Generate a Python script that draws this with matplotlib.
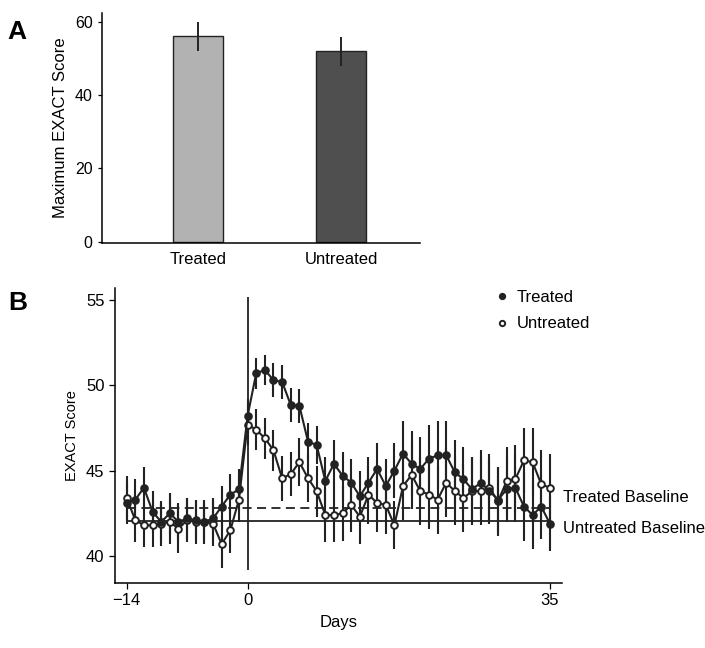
import numpy as np
import matplotlib
matplotlib.use('Agg')
import matplotlib.pyplot as plt

plt.rcParams['font.family'] = ['Liberation Sans', 'DejaVu Sans']

# Panel A: maximum EXACT score
grupos = ['Treated', 'Untreated']
max_score = [56.1, 52.0]
max_err = [4.0, 4.0]

# Panel B: daily EXACT score, day -14 to 35
dias = np.arange(-14, 36)
treated = [43.1, 43.3, 44.0, 42.6, 42.0, 42.5, 42.0, 42.2, 42.1, 42.0,
           42.2, 42.9, 43.6, 43.9, 48.2, 50.7, 50.9, 50.3, 50.2, 48.85,
           48.8, 46.7, 46.5, 44.4, 45.4, 44.7, 44.3, 43.5, 44.3, 45.1,
           44.1, 45.0, 46.0, 45.4, 45.1, 45.7, 45.9, 45.9, 44.9, 44.5,
           43.9, 44.3, 43.8, 43.3, 43.9, 44.0, 42.9, 42.4, 42.9, 41.9]
untreated = [43.4, 42.1, 41.8, 41.8, 41.9, 42.0, 41.6, 42.1, 42.0, 42.0,
             41.9, 40.7, 41.5, 43.3, 47.7, 47.4, 46.9, 46.2, 44.55, 44.8,
             45.5, 44.55, 43.8, 42.4, 42.4, 42.5, 43.0, 42.3, 43.6, 43.1,
             43.0, 41.8, 44.1, 44.75, 43.8, 43.6, 43.3, 44.3, 43.8, 43.4,
             43.8, 43.8, 44.0, 43.2, 44.4, 44.5, 45.6, 45.5, 44.2, 44.0]
treated_err = [1.2, 1.2, 1.2, 1.2, 1.1, 1.2, 1.1, 1.2, 1.1, 1.1,
               1.2, 1.2, 1.2, 1.2, 1.0, 0.9, 0.9, 1.0, 1.0, 1.0,
               1.0, 1.1, 1.1, 1.4, 1.4, 1.4, 1.4, 1.5, 1.5, 1.5,
               1.6, 1.6, 1.9, 1.9, 1.9, 2.0, 2.0, 2.0, 1.9, 1.9,
               1.9, 1.9, 1.9, 1.9, 1.9, 2.0, 2.0, 2.0, 1.9, 1.6]
untreated_err = [1.3, 1.3, 1.3, 1.3, 1.3, 1.3, 1.4, 1.3, 1.3, 1.3,
                 1.3, 1.4, 1.3, 1.3, 1.2, 1.2, 1.2, 1.2, 1.3, 1.3,
                 1.4, 1.4, 1.5, 1.6, 1.6, 1.6, 1.6, 1.6, 1.7, 1.7,
                 1.7, 1.4, 2.0, 2.0, 2.0, 2.0, 2.0, 2.0, 2.0, 2.0,
                 2.0, 2.0, 2.0, 2.0, 2.0, 2.0, 1.9, 2.0, 2.0, 2.0]
base_treated = 42.83
base_untreated = 42.07

fig = plt.figure(figsize=(7.05, 6.48), dpi=100)

# ---- Panel A ----
axA = fig.add_axes([0.1443, 0.6255, 0.4514, 0.3545])
xpos = np.arange(len(grupos))
axA.bar(xpos, max_score, width=0.35, color=['#b2b2b2', '#4f4f4f'],
        edgecolor='#222222', linewidth=1.0)
axA.errorbar(xpos, max_score, yerr=max_err, fmt='none', ecolor='#222222',
             elinewidth=1.4, capsize=0)
axA.set_xlim(-0.673, 1.55)
axA.set_ylim(-0.3, 62.5)
axA.set_yticks([0, 20, 40, 60])
axA.set_xticks(xpos)
axA.set_xticklabels(grupos, fontsize=12)
axA.tick_params(axis='x', length=0, pad=7)
axA.tick_params(axis='y', labelsize=11.5, length=3, width=0.9)
axA.set_ylabel('Maximum EXACT Score', fontsize=12, labelpad=5)
axA.spines['top'].set_visible(False)
axA.spines['right'].set_visible(False)
axA.spines['left'].set_linewidth(1.1)
axA.spines['bottom'].set_linewidth(1.1)
fig.text(0.010, 0.940, 'A', fontsize=19, fontweight='bold')

# ---- Panel B ----
axB = fig.add_axes([0.1631, 0.1003, 0.634, 0.4553])
axB.vlines(0, 39.18, 55.15, color='#222222', linewidth=1.3)
axB.hlines(base_untreated, -14, 35, color='#222222', linewidth=1.3)
axB.hlines(base_treated, -14, 35, color='#222222', linewidth=1.3,
           linestyles=(0, (5, 3)))
axB.errorbar(dias, treated, yerr=treated_err, fmt='none', ecolor='#222222',
             elinewidth=1.5, capsize=0)
axB.errorbar(dias, untreated, yerr=untreated_err, fmt='none', ecolor='#222222',
             elinewidth=1.5, capsize=0)
axB.plot(dias, untreated, '-o', color='#222222', lw=1.5, ms=4.8,
         mfc='white', mec='#222222', mew=1.4, label='Untreated')
axB.plot(dias, treated, '-o', color='#222222', lw=1.5, ms=4.8,
         mfc='#222222', mec='#222222', mew=1.4, label='Treated')
axB.set_xlim(-15.35, 36.4)
axB.set_ylim(38.42, 55.7)
axB.set_xticks([-14, 0, 35])
axB.set_yticks([40, 45, 50, 55])
axB.tick_params(labelsize=12, length=4, width=0.9)
axB.set_xlabel('Days', fontsize=12, labelpad=5)
axB.set_ylabel('EXACT Score', fontsize=10.5, labelpad=5)
axB.spines['top'].set_visible(False)
axB.spines['right'].set_visible(False)
axB.spines['left'].set_linewidth(1.1)
axB.spines['bottom'].set_linewidth(1.1)
axB.text(36.5, base_treated + 0.6, 'Treated Baseline', fontsize=12,
         va='center', ha='left', clip_on=False)
axB.text(36.5, base_untreated - 0.45, 'Untreated Baseline', fontsize=12,
         va='center', ha='left', clip_on=False)

h, l = axB.get_legend_handles_labels()
leg = axB.legend([h[1], h[0]], [l[1], l[0]], loc='upper left',
                 bbox_to_anchor=(0.82, 1.045), frameon=False, fontsize=12,
                 handlelength=0.6, handletextpad=0.6, markerscale=0.8,
                 labelspacing=0.7)
for line in leg.get_lines():
    line.set_linestyle('none')
fig.text(0.012, 0.522, 'B', fontsize=19, fontweight='bold')

fig.savefig('out.png', dpi=100)
